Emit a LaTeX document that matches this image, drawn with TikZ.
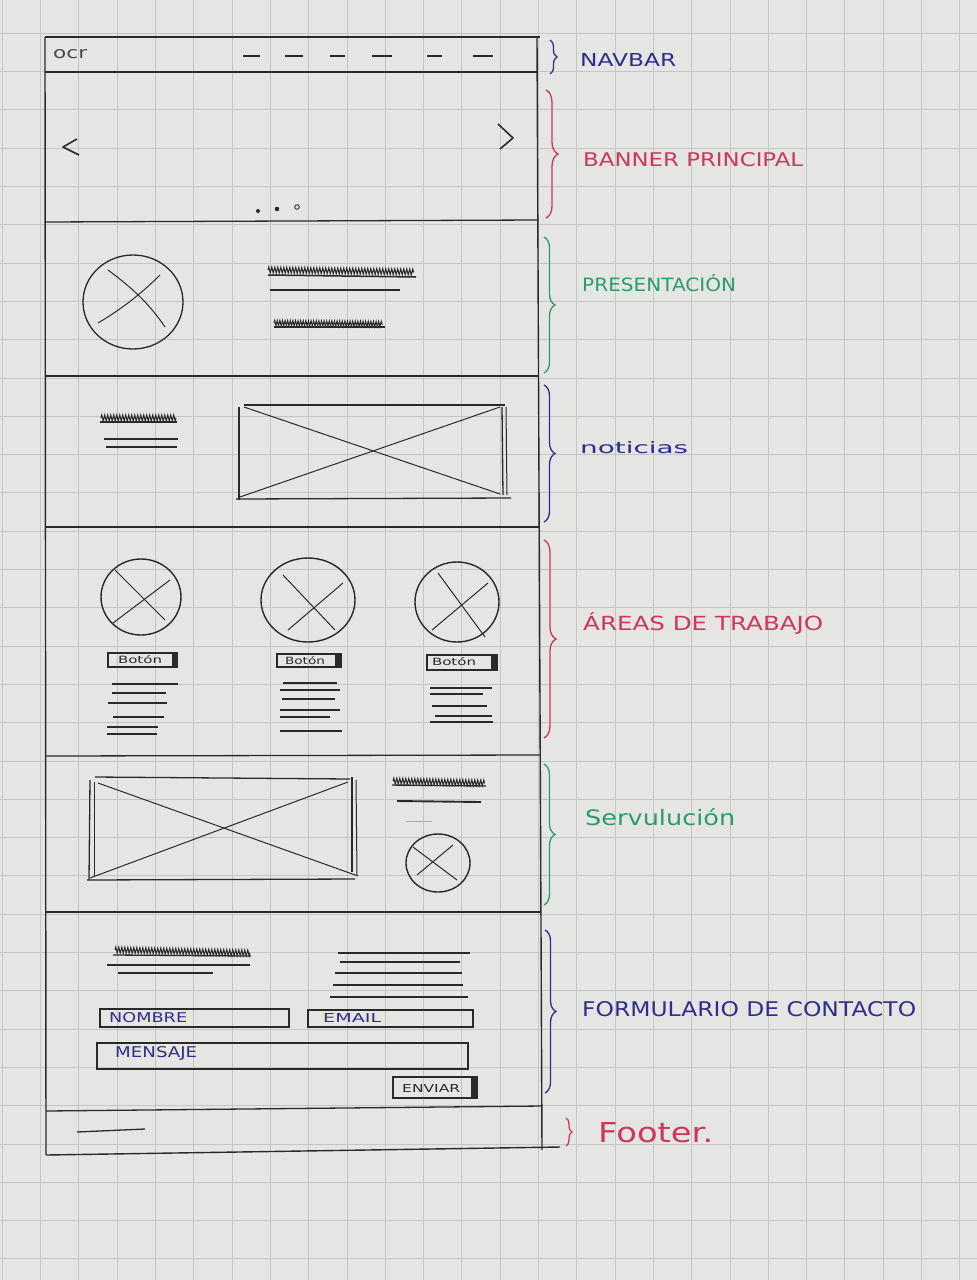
\documentclass[tikz,border=0pt]{standalone}
\usepackage{fontspec}
\setsansfont{DejaVu Sans}
\usetikzlibrary{decorations.pathreplacing,decorations.pathmorphing}

\definecolor{paper}{RGB}{229,229,227}
\definecolor{gridc}{RGB}{196,197,197}
\definecolor{pencil}{RGB}{42,42,42}
\definecolor{inkblue}{RGB}{50,45,140}
\definecolor{inkred}{RGB}{205,55,90}
\definecolor{inkgreen}{RGB}{45,155,110}

% text squeezed into a given box (width, height in pt)
\newcommand{\fitbox}[3]{\resizebox{#1pt}{#2pt}{\sffamily #3}}

\begin{document}
\begin{tikzpicture}[x=1pt,y=-1pt,
  frame/.style={pencil, line width=1.4pt},
  sect/.style={pencil, line width=1.3pt},
  thinline/.style={pencil, line width=1pt},
  textline/.style={pencil, line width=1.1pt},
  scribble/.style={pencil, line width=1pt, decorate,
    decoration={zigzag, segment length=3pt, amplitude=3pt}},
  sbrace/.style={line width=1.3pt, decorate, decoration={brace, amplitude=#1}},
  lbl/.style={anchor=west, inner sep=0pt},
  txt/.style={inner sep=0pt},
  field/.style={pencil, line width=1.2pt},
]
\useasboundingbox (0,0) rectangle (977,1280);

% squared paper
\fill[paper] (0,0) rectangle (977,1280);
\foreach \i in {0,...,25}
  \draw[gridc, line width=0.7pt] ({2.2+38.3*\i},0) -- ({2.2+38.3*\i},1280);
\foreach \i in {0,...,32}
  \draw[gridc, line width=0.7pt] (0,{33.2+38.3*\i}) -- (977,{33.2+38.3*\i});

% page frame
\draw[frame] (45,37) -- (540,37);
\draw[frame] (45,37) -- (46,1155);
\draw[frame] (537,38) -- (542,1150);
\draw[frame] (46,1155) -- (560,1147);

% section dividers
\draw[sect] (45,72) -- (537,72);
\draw[sect] (45,222) -- (538,220);
\draw[sect] (45,376) -- (539,376);
\draw[sect] (45,527) -- (540,527);
\draw[sect] (46,756) -- (540,755);
\draw[sect] (46,912) -- (541,912);
\draw[sect] (46,1111) -- (542,1106);

% ---- navbar
\node[lbl] (logo) at (53,54) {\fitbox{34}{9}{\color{pencil!85}ocr}};
\foreach \a/\b in {243/260, 285/303, 330/345, 372/392, 427/442, 473/493}
  \draw[pencil, line width=1.4pt] (\a,56) -- (\b,56);

% ---- banner
\draw[pencil, line width=1.6pt, line join=round] (77,139) -- (63,147) -- (79,155);
\draw[pencil, line width=1.6pt, line join=round] (498,124) -- (513,138) -- (500,149);
\fill[pencil] (258,211) circle (2);
\fill[pencil] (277,209) circle (2.3);
\draw[pencil, line width=0.9pt] (297,207) circle (2.3);

% ---- presentation
\draw[pencil, line width=1.3pt] (133,302) ellipse (50 and 47);
\draw[thinline] (108,270) .. controls (135,290) and (150,305) .. (165,327);
\draw[thinline] (160,275) .. controls (140,295) and (120,310) .. (98,323);
\draw[scribble] (268,270) -- (414,272);
\draw[pencil, line width=1.5pt] (268,275) -- (416,277);
\draw[textline] (270,290) -- (400,290);
\draw[scribble, decoration={zigzag, segment length=2.6pt, amplitude=2.6pt}] (274,323) -- (383,324);
\draw[textline] (274,327) -- (385,327);

% ---- news
\draw[scribble] (101,418) -- (176,418);
\draw[pencil, line width=1.5pt] (100,422) -- (177,422);
\draw[textline] (104,439) -- (178,439);
\draw[textline] (106,447) -- (177,447);
\draw[sect] (244,405) -- (505,405);
\draw[sect] (239,407) -- (239,500);
\draw[sect] (502,407) -- (503,495);
\draw[thinline] (506,407) -- (507,495);
\draw[sect] (236,499) -- (511,498);
\draw[thinline] (244,407) -- (500,494);
\draw[thinline] (500,407) -- (240,497);

% ---- work areas
\draw[pencil, line width=1.4pt] (141,597) ellipse (40 and 38);
\draw[thinline] (115,570) -- (165,620);
\draw[thinline] (170,580) -- (113,623);
\draw[pencil, line width=1.4pt] (308,600) ellipse (47 and 42);
\draw[thinline] (283,575) -- (335,630);
\draw[thinline] (343,583) -- (288,630);
\draw[pencil, line width=1.4pt] (457,602) ellipse (42 and 40);
\draw[thinline] (438,573) -- (485,637);
\draw[thinline] (488,583) -- (432,630);

\draw[field] (108,653) rectangle (177,667);
\fill[pencil] (172,654) rectangle (177,667);
\node[txt] (boton1) at (140,660) {\fitbox{44}{8}{\color{pencil}Botón}};
\draw[field] (277,654) rectangle (341,667);
\fill[pencil] (335,655) rectangle (341,667);
\node[txt] (boton2) at (305,661) {\fitbox{40}{8}{\color{pencil}Botón}};
\draw[field] (427,655) rectangle (497,670);
\fill[pencil] (491,656) rectangle (497,670);
\node[txt] (boton3) at (454,662) {\fitbox{44}{8}{\color{pencil}Botón}};

\foreach \y/\a/\b in {684/112/178, 693/112/166, 703/108/167, 717/113/164, 727/107/158, 734/107/157}
  \draw[textline] (\a,\y) -- (\b,\y);
\foreach \y/\a/\b in {683/283/337, 690/280/340, 699/282/335, 710/280/340, 717/280/330, 731/280/342}
  \draw[textline] (\a,\y) -- (\b,\y);
\foreach \y/\a/\b in {688/430/492, 694/430/483, 706/432/487, 716/435/492, 722/430/493}
  \draw[textline] (\a,\y) -- (\b,\y);

% ---- service
\draw[sect] (95,777) -- (350,779);
\draw[sect] (90,780) -- (89,880);
\draw[thinline] (94,782) -- (94,877);
\draw[sect] (352,777) -- (352,872);
\draw[thinline] (356,780) -- (357,875);
\draw[sect] (87,880) -- (355,879);
\draw[thinline] (98,783) -- (358,876);
\draw[thinline] (348,782) -- (90,878);
\draw[scribble] (393,781) -- (485,783);
\draw[pencil, line width=1.4pt] (392,785) -- (486,786);
\draw[pencil, line width=1.9pt] (397,801) -- (481,802);
\draw[pencil!40, line width=0.8pt] (406,821) -- (432,821);
\draw[pencil, line width=1.4pt] (438,863) ellipse (32 and 29);
\draw[thinline] (413,847) -- (457,880);
\draw[thinline] (453,845) -- (417,875);

% ---- contact form
\draw[scribble] (115,950) -- (250,953);
\draw[pencil, line width=1.3pt] (113,955) -- (251,956);
\draw[textline] (107,965) -- (250,965);
\draw[textline] (118,973) -- (213,973);
\foreach \y/\a/\b in {953/338/470, 962/340/460, 973/335/462, 985/333/463, 997/330/468}
  \draw[textline] (\a,\y) -- (\b,\y);

\draw[field] (100,1009) rectangle (289,1027);
\node[lbl] (nombre) at (109,1018) {\fitbox{78}{10}{\color{inkblue}NOMBRE}};
\draw[field] (308,1010) rectangle (473,1027);
\node[lbl] (email) at (323,1018) {\fitbox{58}{9}{\color{inkblue}EMAIL}};
\draw[field] (97,1043) rectangle (468,1069);
\node[lbl] (mensaje) at (115,1053) {\fitbox{82}{11}{\color{inkblue}MENSAJE}};
\draw[field] (393,1077) rectangle (477,1098);
\fill[pencil] (471,1078) rectangle (477,1098);
\node[lbl] (enviar) at (402,1088) {\fitbox{58}{8}{\color{pencil}ENVIAR}};

% ---- footer
\draw[pencil, line width=1.3pt] (77,1132) -- (145,1129);

% ---- section notes
\draw[sbrace=7pt, inkblue] (550,40) -- (550,74);
\node[lbl] (n-navbar) at (580,60) {\fitbox{96}{13}{\color{inkblue}NAVBAR}};

\draw[sbrace=12pt, inkred] (546,90) -- (546,218);
\node[lbl] (n-banner) at (583,160) {\fitbox{220}{14}{\color{inkred}BANNER PRINCIPAL}};

\draw[sbrace=11pt, inkgreen] (544,237) -- (544,373);
\node[lbl] (n-pres) at (582,283) {\fitbox{154}{17}{\color{inkgreen}PRESENTACIÓN}};

\draw[sbrace=11pt, inkblue] (544,385) -- (544,522);
\node[lbl] (n-news) at (580,448) {\fitbox{108}{12}{\color{inkblue}noticias}};

\draw[sbrace=12pt, inkred] (544,540) -- (544,738);
\node[lbl] (n-areas) at (583,623) {\fitbox{240}{18}{\color{inkred}ÁREAS DE TRABAJO}};

\draw[sbrace=11pt, inkgreen] (544,764) -- (544,905);
\node[lbl] (n-serv) at (585,817) {\fitbox{150}{17}{\color{inkgreen}Servulución}};

\draw[sbrace=11pt, inkblue] (545,930) -- (545,1093);
\node[lbl] (n-form) at (582,1009) {\fitbox{334}{15}{\color{inkblue}FORMULARIO DE CONTACTO}};

\draw[sbrace=6pt, inkred] (566,1118) -- (566,1146);
\node[lbl] (n-footer) at (598,1133) {\fitbox{115}{20}{\color{inkred}Footer.}};

\end{tikzpicture}
\end{document}
